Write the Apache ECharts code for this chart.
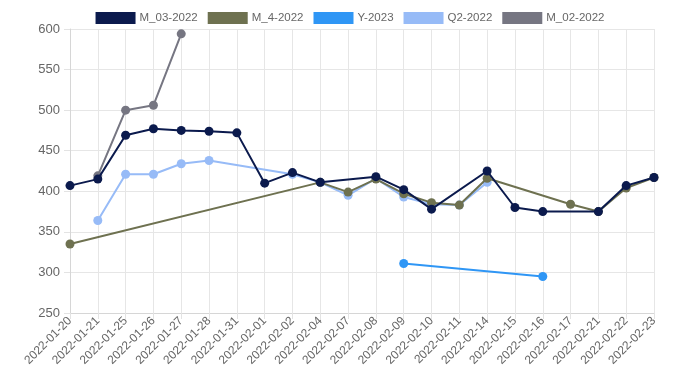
<!DOCTYPE html>
<html>
<head>
<meta charset="utf-8">
<script src="https://cdn.jsdelivr.net/npm/echarts@6/dist/echarts.min.js"></script>
<style>
html,body{margin:0;padding:0;background:#fff;}
#chart{width:700px;height:388px;}
</style>
</head>
<body>
<div id="chart"></div>
<script>
var categories = ["2022-01-20","2022-01-21","2022-01-25","2022-01-26","2022-01-27","2022-01-28","2022-01-31","2022-02-01","2022-02-02","2022-02-04","2022-02-07","2022-02-08","2022-02-09","2022-02-10","2022-02-11","2022-02-14","2022-02-15","2022-02-16","2022-02-17","2022-02-21","2022-02-22","2022-02-23"];
var seriesNames = ["M_03-2022","M_4-2022","Y-2023","Q2-2022","M_02-2022"];
var m03_2022 = [407,415,469,477,475,474,472,410,423,411,null,418,402,378,null,425,380,375,null,375,407,417];
var m4_2022  = [335,null,null,null,null,null,null,null,null,411,399,415,397,386,383,416,null,null,384,375,404,417];
var y2023    = [null,null,null,null,null,null,null,null,null,null,null,null,311,null,null,null,null,295,null,null,null,null];
var q2_2022  = [null,364,421,421,434,438,null,null,421,411,395,416,393,384,383,411,null,null,null,null,null,null];
var m02_2022 = [null,419,500,506,594,null,null,null,null,null,null,null,null,null,null,null,null,null,null,null,null,null];
var yTicks = {min:250, max:600, interval:50};

var colors = ["#0b1a4d","#6e7150","#2f96f5","#97bbf7","#767682"];
var datasets = [m03_2022, m4_2022, y2023, q2_2022, m02_2022];

var chart = echarts.init(document.getElementById('chart'), null, {renderer:'canvas'});
var series = datasets.map(function(d,i){
  return {
    name: seriesNames[i],
    type: 'line',
    data: d,
    connectNulls: true,
    symbol: 'circle',
    symbolSize: 9,
    z: 10 - i,
    lineStyle: {width: 2, color: colors[i]},
    itemStyle: {color: colors[i]},
    emphasis: {disabled: true}
  };
});
chart.setOption({
  animation: false,
  color: colors,
  legend: {
    top: 7,
    left: 'center',
    itemWidth: 40,
    itemHeight: 12,
    itemGap: 10,
    icon: 'rect',
    data: seriesNames,
    textStyle: {color: '#666', fontSize: 11.5, padding: [0,0,0,-1], fontFamily: 'Liberation Sans, Arial, sans-serif'}
  },
  grid: {left: 70, right: 46, top: 29, bottom: 75, containLabel: false},
  xAxis: {
    type: 'category',
    data: categories,
    boundaryGap: false,
    axisLine: {lineStyle: {color: '#d6d6d6'}},
    axisTick: {show: true, alignWithLabel: true, length: 6, lineStyle: {color: '#e3e3e3'}},
    splitLine: {show: true, lineStyle: {color: '#e6e6e6'}},
    axisLabel: {rotate: 45, color: '#666', fontSize: 12, margin: 6, interval: 0, fontFamily: 'Liberation Sans, Arial, sans-serif'}
  },
  yAxis: {
    type: 'value',
    min: yTicks.min,
    max: yTicks.max,
    interval: yTicks.interval,
    axisLine: {show: true, lineStyle: {color: '#d6d6d6'}},
    axisTick: {show: true, length: 6, lineStyle: {color: '#e3e3e3'}},
    splitLine: {show: true, lineStyle: {color: '#e6e6e6'}},
    axisLabel: {color: '#666', fontSize: 13, margin: 10, fontFamily: 'Liberation Sans, Arial, sans-serif'}
  },
  series: series
});
</script>
</body>
</html>
